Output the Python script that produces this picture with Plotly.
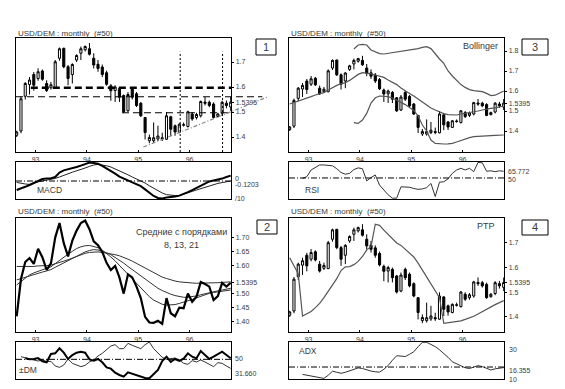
import plotly.graph_objects as go

# ---------------- data ----------------
MONTHS = [f"{y}-{m:02d}" for y in range(1992, 1997) for m in range(1, 13)][7:58]  # 1992-08 .. 1996-10
OPEN = [1.407, 1.424, 1.563, 1.610, 1.650, 1.634, 1.664, 1.614, 1.597, 1.596,
        1.715, 1.755, 1.681, 1.650, 1.708, 1.735, 1.749, 1.753, 1.715, 1.691,
        1.680, 1.657, 1.605, 1.586, 1.593, 1.566, 1.505, 1.593, 1.573, 1.535,
        1.478, 1.385, 1.385, 1.392, 1.397, 1.391, 1.481, 1.445, 1.418, 1.447,
        1.442, 1.492, 1.478, 1.485, 1.540, 1.539, 1.532, 1.482, 1.495, 1.535, 1.520]
HIGH = [1.425, 1.562, 1.620, 1.640, 1.660, 1.675, 1.670, 1.627, 1.620, 1.708,
        1.758, 1.757, 1.688, 1.695, 1.731, 1.762, 1.766, 1.776, 1.735, 1.708,
        1.690, 1.665, 1.612, 1.607, 1.600, 1.570, 1.580, 1.600, 1.580, 1.540,
        1.480, 1.410, 1.458, 1.445, 1.417, 1.500, 1.485, 1.450, 1.455, 1.458,
        1.505, 1.500, 1.497, 1.546, 1.560, 1.546, 1.539, 1.497, 1.545, 1.546, 1.560]
LOW = [1.400, 1.415, 1.550, 1.570, 1.585, 1.625, 1.625, 1.580, 1.590, 1.594,
       1.705, 1.675, 1.607, 1.614, 1.700, 1.708, 1.742, 1.726, 1.674, 1.661,
       1.640, 1.605, 1.545, 1.540, 1.540, 1.495, 1.500, 1.550, 1.520, 1.480,
       1.390, 1.375, 1.377, 1.384, 1.384, 1.388, 1.404, 1.405, 1.415, 1.442,
       1.438, 1.465, 1.470, 1.478, 1.526, 1.519, 1.474, 1.478, 1.488, 1.515, 1.505]
CLOSE = [1.420, 1.553, 1.614, 1.628, 1.607, 1.661, 1.631, 1.586, 1.609, 1.701,
         1.753, 1.681, 1.634, 1.690, 1.726, 1.753, 1.762, 1.731, 1.688, 1.674,
         1.650, 1.611, 1.585, 1.600, 1.559, 1.501, 1.570, 1.559, 1.526, 1.485,
         1.418, 1.398, 1.397, 1.404, 1.393, 1.485, 1.431, 1.420, 1.451, 1.449,
         1.501, 1.472, 1.490, 1.542, 1.535, 1.526, 1.478, 1.492, 1.539, 1.526, 1.5395]

MACD = [-0.45, -0.38, -0.29, -0.2, -0.1, -0.03, 0.1, 0.13, 0.14, 0.2,
        0.42, 0.53, 0.58, 0.62, 0.7, 0.77, 0.86, 0.92, 0.9, 0.86,
        0.76, 0.64, 0.52, 0.37, 0.22, 0.12, 0.03, -0.05, -0.15, -0.26,
        -0.42, -0.6, -0.75, -0.85, -0.87, -0.83, -0.81, -0.78, -0.73, -0.66,
        -0.56, -0.46, -0.36, -0.27, -0.13, -0.02, 0.03, 0.05, 0.12, 0.2, 0.27]
MACD_SIGNAL = [-0.07, -0.12, -0.15, -0.17, -0.1, -0.04, 0.0, 0.04, 0.08, 0.13,
               0.2, 0.29, 0.37, 0.44, 0.51, 0.57, 0.65, 0.73, 0.8, 0.83,
               0.81, 0.76, 0.7, 0.61, 0.5, 0.41, 0.31, 0.2, 0.1, 0.03,
               -0.1, -0.24, -0.37, -0.49, -0.6, -0.68, -0.72, -0.73, -0.73, -0.67,
               -0.6, -0.52, -0.45, -0.38, -0.3, -0.24, -0.18, -0.12, -0.08, -0.03, 0.0]

MA8 = [1.532, 1.545, 1.558, 1.568, 1.575, 1.58, 1.585, 1.59, 1.597, 1.608,
       1.62, 1.632, 1.642, 1.652, 1.662, 1.668, 1.672, 1.673, 1.67, 1.665,
       1.656, 1.645, 1.632, 1.618, 1.602, 1.585, 1.568, 1.552, 1.536, 1.52,
       1.504, 1.49, 1.478, 1.469, 1.463, 1.46, 1.46, 1.462, 1.466, 1.47,
       1.475, 1.48, 1.486, 1.492, 1.497, 1.502, 1.505, 1.507, 1.509, 1.511, 1.514]
MA13 = [1.55, 1.555, 1.56, 1.565, 1.57, 1.575, 1.578, 1.582, 1.587, 1.595,
        1.603, 1.612, 1.62, 1.628, 1.636, 1.643, 1.65, 1.655, 1.658, 1.657,
        1.653, 1.647, 1.64, 1.631, 1.62, 1.61, 1.598, 1.587, 1.575, 1.563,
        1.551, 1.54, 1.53, 1.52, 1.512, 1.505, 1.499, 1.494, 1.49, 1.488,
        1.488, 1.49, 1.493, 1.497, 1.501, 1.505, 1.508, 1.511, 1.514, 1.517, 1.52]
MA21 = [1.598, 1.598, 1.597, 1.597, 1.598, 1.6, 1.6, 1.601, 1.603, 1.607,
        1.612, 1.617, 1.622, 1.628, 1.634, 1.64, 1.645, 1.648, 1.65, 1.65,
        1.648, 1.646, 1.643, 1.64, 1.636, 1.631, 1.624, 1.617, 1.609, 1.6,
        1.592, 1.583, 1.575, 1.567, 1.56, 1.555, 1.55, 1.546, 1.543, 1.541,
        1.54, 1.539, 1.538, 1.538, 1.538, 1.538, 1.539, 1.54, 1.541, 1.542, 1.543]

DM_PLUS = [None, None, 51.5, 50, 50.5, 52, 47, 45.5, 58, 59,
           66.5, 60, 50.5, 56.5, 60, 61.5, 60, 50, 48, 50.5,
           45.5, 38, 36, 30, 26.5, 24, 30.5, 28.5, 26.5, 24,
           22, 21.5, 27.5, 34, 47.5, 54, 46, 50.5, 47.5, 51,
           59, 54, 51.5, 62.5, 56.5, 50.5, 54, 58, 61.5, 56.5, 51.5]
DM_MINUS = [None, 54, 52, 50, 49, 47.5, 49, 46.5, 47, 40,
            38, 41.5, 50.5, 44, 41, 39, 41, 46, 49, 55,
            59, 64, 70, 72, 66, 66, 74, 71, 69, 66,
            72, 76, 66, 59, 53, 50, 51, 52, 49, 44,
            42.5, 48, 46, 49, 46, 43, 39, 45, 44, 40, 36.5]

BB_MID = [1.535, 1.542, 1.55, 1.556, 1.562, 1.572, 1.58, 1.587, 1.592, 1.605,
          1.618, 1.628, 1.636, 1.642, 1.653, 1.668, 1.683, 1.692, 1.69, 1.686,
          1.68, 1.675, 1.668, 1.655, 1.645, 1.632, 1.615, 1.6, 1.588, 1.575,
          1.56, 1.542, 1.53, 1.515, 1.505, 1.495, 1.487, 1.482, 1.48, 1.48,
          1.485, 1.488, 1.492, 1.495, 1.5, 1.505, 1.51, 1.513, 1.516, 1.52, 1.525]
BB_UP = [None] * 15 + [1.81, 1.83, 1.833, 1.83, 1.805, 1.795, 1.787, 1.785, 1.788, 1.792,
                       1.797, 1.8, 1.803, 1.806, 1.808, 1.812, 1.818, 1.822, 1.812, 1.785,
                       1.76, 1.738, 1.70, 1.675, 1.655, 1.632, 1.618, 1.607, 1.602, 1.6,
                       1.597, 1.588, 1.577, 1.579, 1.588, 1.6]
BB_LOW = [None] * 15 + [1.442, 1.438, 1.455, 1.488, 1.54, 1.566, 1.575, 1.575, 1.572, 1.565,
                        1.555, 1.545, 1.532, 1.518, 1.503, 1.475, 1.43, 1.40, 1.355, 1.338,
                        1.336, 1.335, 1.336, 1.338, 1.345, 1.353, 1.36, 1.367, 1.372, 1.374,
                        1.375, 1.376, 1.377, 1.378, 1.379, 1.38]

RSI = [None, None, None, 49, 53, 69, 76, 81, 81, 80,
       79, 72, 63, 59, 61, 70, 74, 72, 43, 51,
       57, 33, 21, 10, 2, 2, 29, 29, 28, 25,
       23, 24, 27, 37, 6, 40, 41, 48, 61, 69,
       73, 69, 73, 65, 87, 86, 66, 67, 65, 67, 66]

PTP = [1.64, 1.605, 1.575, 1.404, 1.412, 1.422, 1.438, 1.455, 1.478, 1.505,
       1.528, 1.555, 1.588, 1.603, 1.604, 1.612, 1.625, 1.645, 1.672, 1.685,
       1.776, 1.771, 1.752, 1.735, 1.718, 1.70, 1.69, 1.673, 1.657, 1.643,
       1.618, 1.59, 1.562, 1.532, 1.505, 1.478, 1.374, 1.376, 1.378, 1.38,
       1.384, 1.39, 1.395, 1.403, 1.412, 1.422, 1.432, 1.442, 1.45, 1.458, 1.466]

ADX = [None, None, None, 13.1, 12.5, 11.8, 11.1, 10.7, 10.4, 12.5,
       15.2, 14.5, 13.8, 14.5, 15.3, 16.2, 17.4, 17, 16, 15.3,
       14.8, 14.6, 16.5, 19, 22.5, 25.5, 25.3, 25, 26.5, 28.2,
       31.5, 34.5, 34.5, 33, 31.6, 29.5, 27.1, 24.5, 21.5, 20,
       19, 17.5, 17, 18, 18.9, 18.3, 17.2, 16, 16.8, 17.3, 17.6]

# analyst drawings on panel 1 (index of month, price)
RESIST_LEVEL = 1.597
RESIST_START = 3.3
MID_LEVEL = 1.561
MID_END = 57.4
SUPPORT_LEVEL = 1.497
SUPPORT_START = 24.6
TREND = [(29.6, 1.36), (58.6, 1.56)]
VLINES = [38.2, 48.1]
VLINE_TOP = 1.741

# tick labels
P1_TICKS = [1.4, 1.5, 1.5395, 1.6, 1.7]
P2_TICKS = [1.40, 1.45, 1.50, 1.5395, 1.60, 1.65, 1.70]
P3_TICKS = [1.4, 1.5, 1.5395, 1.6, 1.7, 1.8]
P4_TICKS = [1.4, 1.5, 1.5395, 1.6, 1.7]

# ---------------- layout helpers ----------------
W, H = 565, 389
FONT = "Liberation Sans, Arial, sans-serif"
TXT = "#3a3a3a"
X = list(range(len(MONTHS)))
X_RANGE = [-0.16, 50.07]
YEAR_POS = [i - 0.6 for i, m in enumerate(MONTHS) if m.endswith("-01")]
YEAR_TXT = [MONTHS[i][2:4] for i, m in enumerate(MONTHS) if m.endswith("-01")]

R1 = [1.34, 1.796]
R2 = [1.364, 1.771]
R3 = [1.295, 1.865]
R4 = [1.339, 1.801]
R_MACD = [-0.9, 0.95]
R_RSI = [0, 88]
R_DM = [20.5, 76]
R_ADX = [10, 34.7]


def dx(a, b):
    return [a / W, b / W]


def dy(top, bottom):
    return [1 - bottom / H, 1 - top / H]


fig = go.Figure()

# panel geometry (pixels)
LEFT = (16, 231)
RIGHT = (289, 504)
TOP_MAIN = (38, 152)
TOP_SUB = (162, 199)
BOT_MAIN = (218, 332)
BOT_SUB = (342, 379)

panels = {
    1: (LEFT, TOP_MAIN, R1, True),
    2: (LEFT, TOP_SUB, R_MACD, False),
    3: (LEFT, BOT_MAIN, R2, True),
    4: (LEFT, BOT_SUB, R_DM, False),
    5: (RIGHT, TOP_MAIN, R3, True),
    6: (RIGHT, TOP_SUB, R_RSI, False),
    7: (RIGHT, BOT_MAIN, R4, True),
    8: (RIGHT, BOT_SUB, R_ADX, False),
}
yticks = {1: (P1_TICKS, 1), 3: (P2_TICKS, 2), 5: (P3_TICKS, 1), 7: (P4_TICKS, 1)}

layout_axes = {}
for k, ((xa, xb), (yt, yb), yr, main) in panels.items():
    xs = "xaxis" if k == 1 else f"xaxis{k}"
    ys = "yaxis" if k == 1 else f"yaxis{k}"
    xid = "x" if k == 1 else f"x{k}"
    yid = "y" if k == 1 else f"y{k}"
    layout_axes[xs] = dict(
        domain=dx(xa, xb), anchor=yid, range=X_RANGE, showgrid=False, zeroline=False,
        showline=True, mirror=True, linecolor="black", linewidth=1.3,
        tickmode="array", tickvals=YEAR_POS, ticktext=YEAR_TXT,
        showticklabels=main, ticks="inside" if main else "", ticklen=2,
        tickcolor="black", tickfont=dict(size=7, color=TXT, family=FONT),
        rangeslider=dict(visible=False), fixedrange=True,
    )
    if main:
        tv, dec = yticks[k]
        tt = [("1.5395" if abs(v - 1.5395) < 1e-6 else (f"{v:.2f}" if dec == 2 else f"{v:.1f}")) for v in tv]
        layout_axes[ys] = dict(
            domain=dy(yt, yb), anchor=xid, range=yr, side="right", showgrid=False,
            zeroline=False, showline=True, mirror=True, linecolor="black", linewidth=1.3,
            tickmode="array", tickvals=tv, ticktext=tt, ticks="outside", ticklen=2,
            tickcolor="black", tickfont=dict(size=7, color=TXT, family=FONT), fixedrange=True,
        )
    else:
        layout_axes[ys] = dict(
            domain=dy(yt, yb), anchor=xid, range=yr, side="right", showgrid=False,
            zeroline=False, showline=True, mirror=True, linecolor="black", linewidth=1.3,
            showticklabels=False, ticks="", fixedrange=True,
        )


def candles(xr, yr):
    return go.Candlestick(
        x=X, open=OPEN, high=HIGH, low=LOW, close=CLOSE, xaxis=xr, yaxis=yr,
        increasing=dict(line=dict(color="black", width=1), fillcolor="white"),
        decreasing=dict(line=dict(color="black", width=1), fillcolor="black"),
        whiskerwidth=0, hoverinfo="skip", showlegend=False,
    )


def line(y, xr, yr, color="black", width=1.0, dash=None):
    return go.Scatter(x=X, y=y, xaxis=xr, yaxis=yr, mode="lines",
                      line=dict(color=color, width=width, dash=dash),
                      hoverinfo="skip", showlegend=False, connectgaps=False)


# panel 1
fig.add_trace(candles("x", "y"))
fig.add_trace(line(MACD_SIGNAL, "x2", "y2", "#222", 1.0))
fig.add_trace(line(MACD, "x2", "y2", "black", 2.0))
# panel 2
fig.add_trace(line(MA21, "x3", "y3", "#333", 1.0))
fig.add_trace(line(MA13, "x3", "y3", "#333", 1.0))
fig.add_trace(line(MA8, "x3", "y3", "#333", 1.0))
fig.add_trace(line(CLOSE, "x3", "y3", "black", 2.2))
fig.add_trace(line(DM_MINUS, "x4", "y4", "#333", 1.0))
fig.add_trace(line(DM_PLUS, "x4", "y4", "black", 2.0))
# panel 3
fig.add_trace(line(BB_UP, "x5", "y5", "#555", 1.2))
fig.add_trace(line(BB_MID, "x5", "y5", "#555", 1.2))
fig.add_trace(line(BB_LOW, "x5", "y5", "#555", 1.2))
fig.add_trace(candles("x5", "y5"))
fig.add_trace(line(RSI, "x6", "y6", "#333", 1.0))
# panel 4
fig.add_trace(line(PTP, "x7", "y7", "#555", 1.2))
fig.add_trace(candles("x7", "y7"))
fig.add_trace(line(ADX, "x8", "y8", "#333", 1.0))


def xd(i):
    return (i - X_RANGE[0]) / (X_RANGE[1] - X_RANGE[0])


def yd(v, r):
    return (v - r[0]) / (r[1] - r[0])


shapes = []
# panel 1 drawings
shapes.append(dict(type="line", xref="x", yref="y", x0=RESIST_START, x1=X_RANGE[1],
                   y0=RESIST_LEVEL, y1=RESIST_LEVEL, line=dict(color="black", width=2.4, dash="7px,4px")))
shapes.append(dict(type="line", xref="x domain", yref="y domain", x0=0, x1=xd(MID_END),
                   y0=yd(MID_LEVEL, R1), y1=yd(MID_LEVEL, R1), line=dict(color="black", width=1, dash="7px,4px")))
shapes.append(dict(type="line", xref="x", yref="y", x0=SUPPORT_START, x1=X_RANGE[1],
                   y0=SUPPORT_LEVEL, y1=SUPPORT_LEVEL, line=dict(color="black", width=1, dash="7px,4px")))
shapes.append(dict(type="line", xref="x domain", yref="y domain",
                   x0=xd(TREND[0][0]), y0=yd(TREND[0][1], R1), x1=xd(TREND[1][0]), y1=yd(TREND[1][1], R1),
                   line=dict(color="#888", width=1.2, dash="4px,2px,1px,2px")))
for v in VLINES:
    shapes.append(dict(type="line", xref="x", yref="y", x0=v, x1=v, y0=R1[0], y1=VLINE_TOP,
                       line=dict(color="black", width=1, dash="2px,2px")))
# reference dash-dot lines in indicator panels
for xr, yr, val in [("x2", "y2", 0), ("x4", "y4", 50), ("x6", "y6", 50), ("x8", "y8", 18)]:
    shapes.append(dict(type="line", xref=f"{xr} domain", yref=yr, x0=0, x1=1, y0=val, y1=val,
                       line=dict(color="black", width=1, dash="6px,2px,1px,2px")))

# numbered boxes
BOXES = [("1", 256, 276, 39, 55), ("2", 257, 277, 220, 234), ("3", 522, 548, 39, 55), ("4", 522, 548, 220, 235)]
annotations = []
for t, xa, xb, yt, yb in BOXES:
    shapes.append(dict(type="rect", xref="paper", yref="paper", x0=xa / W, x1=xb / W,
                       y0=1 - yb / H, y1=1 - yt / H, line=dict(color="black", width=1)))
    annotations.append(dict(text=t, xref="paper", yref="paper", x=(xa + xb) / 2 / W, y=1 - (yt + yb) / 2 / H,
                            showarrow=False, font=dict(size=11, color=TXT, family=FONT),
                            xanchor="center", yanchor="middle"))


def txt(s, x, y, size=8, anchor="left"):
    annotations.append(dict(text=s, xref="paper", yref="paper", x=x / W, y=1 - y / H, showarrow=False,
                            font=dict(size=size, color=TXT, family=FONT), xanchor=anchor, yanchor="middle"))


TITLE = "USD/DEM : monthly  (#50)"
txt(TITLE, 16, 34)
txt(TITLE, 16, 212)
txt(TITLE, 289, 34)
txt(TITLE, 289, 212)
txt("Bollinger", 500, 46, 9, "right")
txt("PTP", 497, 226, 9, "right")
txt("Средние с порядками", 181, 232, 9, "center")
txt("8, 13, 21", 181, 245, 9, "center")
txt("MACD", 35, 190, 8.5)
txt("RSI", 303, 190, 8.5)
txt("±DM", 17, 370, 8.5)
txt("ADX", 297, 351, 8.5)
# indicator right-side labels
txt("0", 233, 178, 7)
txt("-0.1203", 233, 184, 7)
txt("/10", 233, 199, 7)
txt("65.772", 506, 172, 7)
txt("50", 506, 179, 7)
txt("50", 233, 358, 7)
txt("31.660", 233, 373, 7)
txt("30", 507, 349, 7)
txt("16.355", 507, 370, 7)
txt("10", 507, 379, 7)

fig.update_layout(
    width=W, height=H, margin=dict(l=0, r=0, t=0, b=0),
    paper_bgcolor="white", plot_bgcolor="white", showlegend=False,
    shapes=shapes, annotations=annotations, boxgap=0.3,
    font=dict(family=FONT, color=TXT), **layout_axes,
)

fig.write_html("out.html", config={"displayModeBar": False, "staticPlot": True},
               post_script="document.body.style.margin='0';document.body.style.overflow='hidden';")
